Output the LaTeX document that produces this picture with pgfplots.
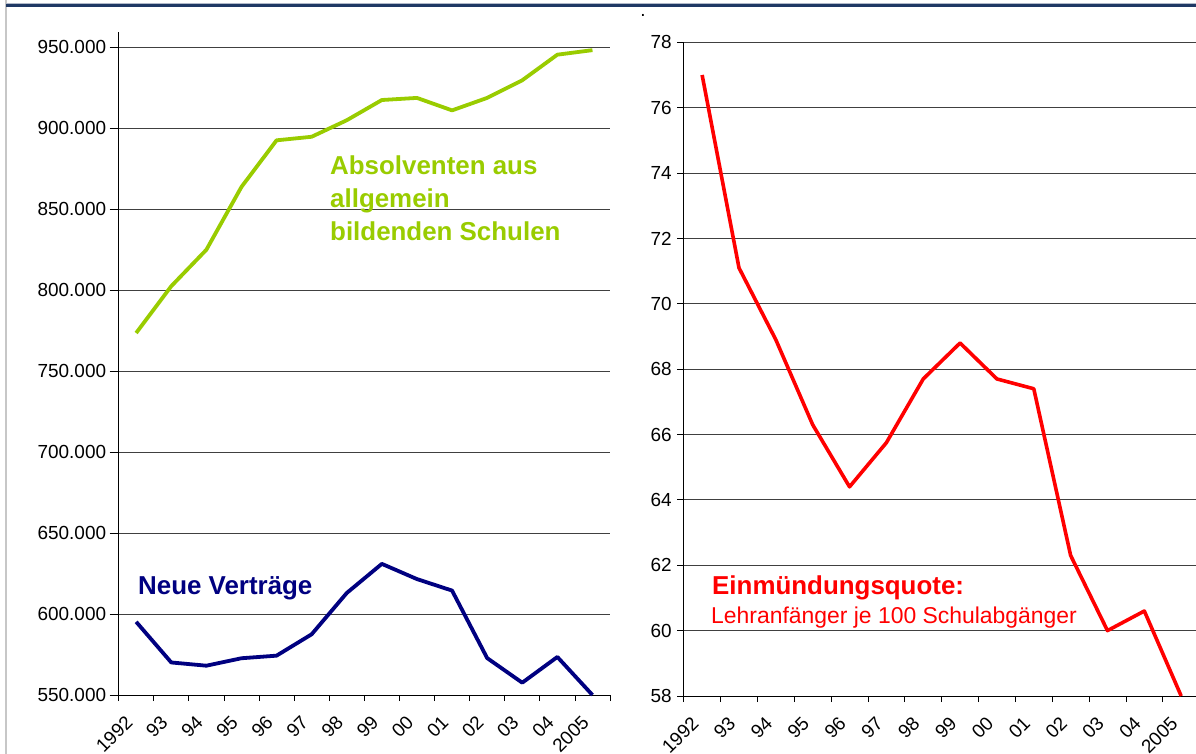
\documentclass[border=0pt]{standalone}
\usepackage{pgfplots}
\pgfplotsset{compat=1.18}
\usepackage{fontspec}
\setmainfont{Liberation Sans}
\definecolor{limeg}{HTML}{99CC00}
\definecolor{navyb}{HTML}{000080}
\definecolor{topline}{HTML}{1F3864}
\definecolor{redl}{HTML}{FF0000}
\pgfplotsset{
  common/.style={
    scale only axis,
    axis x line*=bottom, axis y line*=left,
    axis line style={-, black, line width=0.8bp},
    xmin=-0.5, xmax=13.5,
    xtick={0,...,13},
    xticklabels={1992,93,94,95,96,97,98,99,00,01,02,03,04,2005},
    minor xtick={-0.5,0.5,...,13.5},
    major x tick style={draw=none},
    minor tick length=6bp,
    tick align=outside,
    tick style={black, line width=0.8bp},
    ymajorgrids,
    major grid style={black!75, line width=0.8bp},
    ticklabel style={font=\fontsize{19}{22}\selectfont},
    /pgf/number format/assume math mode=true,
    clip=false,
  }
}
\begin{document}
\begin{tikzpicture}
\useasboundingbox (0bp,0bp) rectangle (1196bp,754bp);
\draw[line width=2bp, black!22] (6bp,0bp) -- (6bp,754bp);
\draw[line width=1bp, topline!35] (6bp,750.3bp) -- (1196bp,750.3bp);
\draw[line width=3bp, topline] (6bp,748.2bp) -- (1196bp,748.2bp);
\node[font=\fontsize{19}{22}\selectfont, inner sep=0pt, anchor=base] at (643bp,737bp) {.};

\begin{axis}[common,
  at={(118.6bp,59bp)}, anchor=south west,
  width=491.4bp, height=663.3bp,
  ymin=550000, ymax=959700,
  ytick={550000,600000,...,950000},
  major tick length=9bp,
  xticklabel style={xshift=-4.5bp, yshift=-13bp, rotate=45, anchor=east},
  scaled y ticks=false,
  yticklabel style={/pgf/number format/.cd, fixed, precision=0, 1000 sep={.}},
]
\addplot[limeg, line width=3.8bp, line join=round] coordinates {
 (0,773600) (1,802500) (2,825000) (3,863800) (4,892600) (5,894800) (6,905000)
 (7,917500) (8,918800) (9,911100) (10,918800) (11,929700) (12,945500) (13,948300)};
\addplot[navyb, line width=3.8bp, line join=round] coordinates {
 (0,595200) (1,570100) (2,568100) (3,572700) (4,574300) (5,587500) (6,613000)
 (7,631000) (8,621600) (9,614500) (10,572800) (11,557600) (12,573500) (13,550000)};
\end{axis}

\begin{axis}[common,
  at={(683.7bp,58bp)}, anchor=south west,
  width=515.9bp, height=653.7bp,
  ymin=58, ymax=78,
  ytick={58,60,...,78},
  major tick length=6.5bp,
  xticklabel style={xshift=-4.5bp, yshift=-15.5bp, rotate=45, anchor=east},
  yticklabel style={xshift=-2bp},
]
\addplot[redl, line width=3.6bp, line join=round] coordinates {
 (0,77.0) (1,71.1) (2,68.9) (3,66.3) (4,64.4) (5,65.75) (6,67.7)
 (7,68.8) (8,67.7) (9,67.4) (10,62.3) (11,60.0) (12,60.6) (13,58.0)};
\end{axis}

\node[anchor=base west, inner sep=0pt, text=limeg, font=\fontsize{26}{30}\selectfont\bfseries] at (330bp,579.7bp) {Absolventen aus};
\node[anchor=base west, inner sep=0pt, text=limeg, font=\fontsize{26}{30}\selectfont\bfseries] at (330bp,546.3bp) {allgemein};
\node[anchor=base west, inner sep=0pt, text=limeg, font=\fontsize{26}{30}\selectfont\bfseries] at (330bp,513bp) {bildenden Schulen};
\node[anchor=base west, inner sep=0pt, text=navyb, font=\fontsize{26}{30}\selectfont\bfseries] at (138bp,159bp) {Neue Verträge};
\node[anchor=base west, inner sep=0pt, text=redl, font=\fontsize{26}{30}\selectfont\bfseries] at (712bp,159bp) {Einmündungsquote:};
\node[anchor=base west, inner sep=0pt, text=redl, font=\fontsize{23}{26}\selectfont] at (711bp,130.7bp) {Lehranfänger je 100 Schulabgänger};
\end{tikzpicture}
\end{document}
